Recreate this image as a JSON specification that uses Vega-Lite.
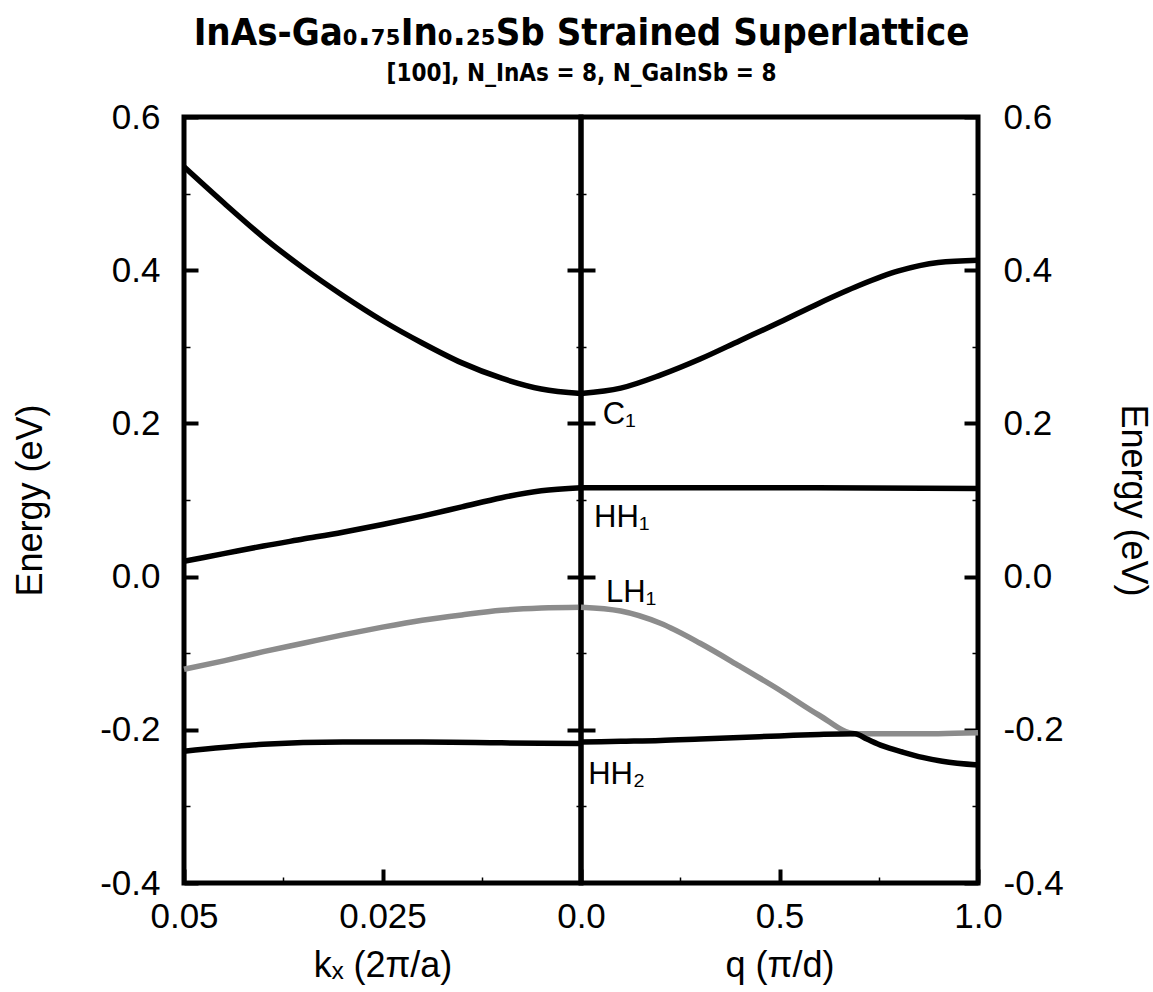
{
  "$schema": "https://vega.github.io/schema/vega-lite/v6.json",
  "background": "white",
  "padding": {"left": 10, "right": 5, "top": 14, "bottom": 5},
  "title": {
    "text": "InAs-Ga₀.₇₅In₀.₂₅Sb Strained Superlattice",
    "subtitle": "[100], N_InAs = 8,  N_GaInSb = 8",
    "font": "Liberation Sans Narrow, DejaVu Sans Condensed, Liberation Sans",
    "fontSize": 38,
    "fontWeight": "bold",
    "color": "black",
    "subtitleFont": "Liberation Sans Narrow, DejaVu Sans Condensed, Liberation Sans",
    "subtitleFontSize": 24,
    "subtitleFontWeight": "bold",
    "subtitleColor": "black",
    "subtitlePadding": 9,
    "anchor": "middle",
    "offset": 12
  },
  "datasets": {
    "left": [
      {"kx": 0.05, "E": 0.535, "band": "C1"},
      {"kx": 0.045, "E": 0.488, "band": "C1"},
      {"kx": 0.04, "E": 0.443, "band": "C1"},
      {"kx": 0.035, "E": 0.403, "band": "C1"},
      {"kx": 0.03, "E": 0.367, "band": "C1"},
      {"kx": 0.025, "E": 0.334, "band": "C1"},
      {"kx": 0.02, "E": 0.305, "band": "C1"},
      {"kx": 0.015, "E": 0.279, "band": "C1"},
      {"kx": 0.01, "E": 0.259, "band": "C1"},
      {"kx": 0.005, "E": 0.245, "band": "C1"},
      {"kx": 0.0, "E": 0.239, "band": "C1"},
      {"kx": 0.05, "E": 0.020, "band": "HH1"},
      {"kx": 0.045, "E": 0.030, "band": "HH1"},
      {"kx": 0.04, "E": 0.040, "band": "HH1"},
      {"kx": 0.035, "E": 0.049, "band": "HH1"},
      {"kx": 0.03, "E": 0.058, "band": "HH1"},
      {"kx": 0.025, "E": 0.068, "band": "HH1"},
      {"kx": 0.02, "E": 0.079, "band": "HH1"},
      {"kx": 0.015, "E": 0.091, "band": "HH1"},
      {"kx": 0.01, "E": 0.103, "band": "HH1"},
      {"kx": 0.005, "E": 0.112, "band": "HH1"},
      {"kx": 0.0, "E": 0.116, "band": "HH1"},
      {"kx": 0.05, "E": -0.121, "band": "LH1"},
      {"kx": 0.045, "E": -0.110, "band": "LH1"},
      {"kx": 0.04, "E": -0.098, "band": "LH1"},
      {"kx": 0.035, "E": -0.087, "band": "LH1"},
      {"kx": 0.03, "E": -0.076, "band": "LH1"},
      {"kx": 0.025, "E": -0.066, "band": "LH1"},
      {"kx": 0.02, "E": -0.057, "band": "LH1"},
      {"kx": 0.015, "E": -0.050, "band": "LH1"},
      {"kx": 0.01, "E": -0.044, "band": "LH1"},
      {"kx": 0.005, "E": -0.041, "band": "LH1"},
      {"kx": 0.0, "E": -0.040, "band": "LH1"},
      {"kx": 0.05, "E": -0.228, "band": "HH2"},
      {"kx": 0.04, "E": -0.219, "band": "HH2"},
      {"kx": 0.03, "E": -0.216, "band": "HH2"},
      {"kx": 0.02, "E": -0.216, "band": "HH2"},
      {"kx": 0.01, "E": -0.217, "band": "HH2"},
      {"kx": 0.0, "E": -0.218, "band": "HH2"}
    ],
    "right": [
      {"q": 0.0, "E": 0.239, "band": "C1"},
      {"q": 0.1, "E": 0.246, "band": "C1"},
      {"q": 0.2, "E": 0.263, "band": "C1"},
      {"q": 0.3, "E": 0.284, "band": "C1"},
      {"q": 0.4, "E": 0.308, "band": "C1"},
      {"q": 0.5, "E": 0.332, "band": "C1"},
      {"q": 0.6, "E": 0.357, "band": "C1"},
      {"q": 0.7, "E": 0.380, "band": "C1"},
      {"q": 0.8, "E": 0.399, "band": "C1"},
      {"q": 0.9, "E": 0.410, "band": "C1"},
      {"q": 1.0, "E": 0.413, "band": "C1"},
      {"q": 0.0, "E": 0.116, "band": "HH1"},
      {"q": 0.5, "E": 0.116, "band": "HH1"},
      {"q": 1.0, "E": 0.115, "band": "HH1"},
      {"q": 0.0, "E": -0.040, "band": "LH1"},
      {"q": 0.1, "E": -0.045, "band": "LH1"},
      {"q": 0.2, "E": -0.061, "band": "LH1"},
      {"q": 0.3, "E": -0.087, "band": "LH1"},
      {"q": 0.4, "E": -0.117, "band": "LH1"},
      {"q": 0.5, "E": -0.148, "band": "LH1"},
      {"q": 0.6, "E": -0.181, "band": "LH1"},
      {"q": 0.69, "E": -0.205, "band": "LH1"},
      {"q": 0.8, "E": -0.205, "band": "LH1"},
      {"q": 0.9, "E": -0.205, "band": "LH1"},
      {"q": 1.0, "E": -0.204, "band": "LH1"},
      {"q": 0.0, "E": -0.216, "band": "HH2"},
      {"q": 0.1, "E": -0.215, "band": "HH2"},
      {"q": 0.2, "E": -0.214, "band": "HH2"},
      {"q": 0.3, "E": -0.212, "band": "HH2"},
      {"q": 0.4, "E": -0.210, "band": "HH2"},
      {"q": 0.5, "E": -0.208, "band": "HH2"},
      {"q": 0.6, "E": -0.206, "band": "HH2"},
      {"q": 0.69, "E": -0.205, "band": "HH2"},
      {"q": 0.72, "E": -0.212, "band": "HH2"},
      {"q": 0.76, "E": -0.221, "band": "HH2"},
      {"q": 0.81, "E": -0.229, "band": "HH2"},
      {"q": 0.86, "E": -0.236, "band": "HH2"},
      {"q": 0.91, "E": -0.241, "band": "HH2"},
      {"q": 1.0, "E": -0.246, "band": "HH2"}
    ],
    "labels": [
      {"q": 0.055, "E": 0.199, "label": "C₁"},
      {"q": 0.033, "E": 0.065, "label": "HH₁"},
      {"q": 0.063, "E": -0.033, "label": "LH₁"},
      {"q": 0.018, "E": -0.271, "label": "HH₂"}
    ]
  },
  "spacing": 0,
  "bounds": "flush",
  "hconcat": [
    {
      "width": 397,
      "height": 766,
      "data": {"name": "left"},
      "layer": [
        {
          "mark": {"type": "line", "strokeWidth": 5.5, "interpolate": "monotone"},
          "encoding": {
            "x": {"field": "kx", "type": "quantitative",
                  "scale": {"domain": [0.05, 0], "nice": false, "zero": false},
                  "axis": {"orient": "bottom", "values": [0.05, 0.025], "labelExpr": "format(datum.value, '.3~f')",
                           "tickSize": -14, "tickWidth": 4, "labelPadding": 30, "labelFlush": false,
                           "title": "kₓ (2π/a)", "titlePadding": 14}},
            "y": {"field": "E", "type": "quantitative",
                  "scale": {"domain": [-0.4, 0.6], "nice": false, "zero": false},
                  "axis": {"orient": "left", "values": [-0.4, -0.2, 0, 0.2, 0.4, 0.6],
                           "labelExpr": "datum.value < 0 ? '-' + format(-datum.value, '.1f') : format(datum.value, '.1f')",
                           "tickSize": -14, "tickWidth": 4, "labelPadding": 38,
                           "title": "Energy (eV)", "titlePadding": 50}},
            "color": {"field": "band", "type": "nominal",
                      "scale": {"domain": ["C1", "HH1", "LH1", "HH2"], "range": ["black", "black", "#8c8c8c", "black"]},
                      "legend": null}
          }
        },
        {
          "mark": {"type": "point", "opacity": 0},
          "encoding": {
            "x": {"field": "kx", "type": "quantitative",
                  "axis": {"orient": "bottom", "values": [0.0375, 0.0125], "labels": false, "tickSize": -6, "tickWidth": 1.5, "title": null, "minExtent": 0, "maxExtent": 0}},
            "y": {"field": "E", "type": "quantitative",
                  "axis": {"orient": "left", "values": [-0.3, -0.1, 0.1, 0.3, 0.5], "labels": false, "tickSize": -6, "tickWidth": 1.5, "title": null, "minExtent": 0, "maxExtent": 0}}
          }
        },
        {
          "mark": {"type": "point", "opacity": 0},
          "encoding": {
            "x": {"field": "kx", "type": "quantitative", "axis": null},
            "y": {"field": "E", "type": "quantitative",
                  "axis": {"orient": "right", "values": [-0.2, 0, 0.2, 0.4], "labels": false, "tickSize": -14, "tickWidth": 4, "title": null, "minExtent": 0, "maxExtent": 0}}
          }
        },
        {
          "mark": {"type": "point", "opacity": 0},
          "encoding": {
            "x": {"field": "kx", "type": "quantitative", "axis": null},
            "y": {"field": "E", "type": "quantitative",
                  "axis": {"orient": "right", "values": [-0.3, -0.1, 0.1, 0.3, 0.5], "labels": false, "tickSize": -5, "tickWidth": 1.5, "title": null, "minExtent": 0, "maxExtent": 0}}
          }
        }
      ],
      "resolve": {"axis": {"x": "independent", "y": "independent"}}
    },
    {
      "width": 397,
      "height": 766,
      "data": {"name": "right"},
      "layer": [
        {
          "mark": {"type": "line", "strokeWidth": 5.5, "interpolate": "monotone"},
          "encoding": {
            "x": {"field": "q", "type": "quantitative",
                  "scale": {"domain": [0, 1], "nice": false, "zero": false},
                  "axis": {"orient": "bottom", "values": [0, 0.5, 1], "format": ".1f",
                           "tickSize": -14, "tickWidth": 4, "labelPadding": 30, "labelFlush": false,
                           "title": "q (π/d)", "titlePadding": 14}},
            "y": {"field": "E", "type": "quantitative",
                  "scale": {"domain": [-0.4, 0.6], "nice": false, "zero": false},
                  "axis": {"orient": "right", "values": [-0.4, -0.2, 0, 0.2, 0.4, 0.6],
                           "labelExpr": "datum.value < 0 ? '-' + format(-datum.value, '.1f') : format(datum.value, '.1f')",
                           "tickSize": -14, "tickWidth": 4, "labelPadding": 39,
                           "title": "Energy (eV)", "titlePadding": 50}},
            "color": {"field": "band", "type": "nominal",
                      "scale": {"domain": ["C1", "HH1", "LH1", "HH2"], "range": ["black", "black", "#8c8c8c", "black"]},
                      "legend": null}
          }
        },
        {
          "mark": {"type": "point", "opacity": 0},
          "encoding": {
            "x": {"field": "q", "type": "quantitative",
                  "axis": {"orient": "bottom", "values": [0.25, 0.75], "labels": false, "tickSize": -6, "tickWidth": 1.5, "title": null, "minExtent": 0, "maxExtent": 0}},
            "y": {"field": "E", "type": "quantitative",
                  "axis": {"orient": "right", "values": [-0.3, -0.1, 0.1, 0.3, 0.5], "labels": false, "tickSize": -6, "tickWidth": 1.5, "title": null, "minExtent": 0, "maxExtent": 0}}
          }
        },
        {
          "mark": {"type": "point", "opacity": 0},
          "encoding": {
            "x": {"field": "q", "type": "quantitative", "axis": null},
            "y": {"field": "E", "type": "quantitative",
                  "axis": {"orient": "left", "values": [-0.2, 0, 0.2, 0.4], "labels": false, "tickSize": -14, "tickWidth": 4, "title": null, "minExtent": 0, "maxExtent": 0}}
          }
        },
        {
          "mark": {"type": "point", "opacity": 0},
          "encoding": {
            "x": {"field": "q", "type": "quantitative", "axis": null},
            "y": {"field": "E", "type": "quantitative",
                  "axis": {"orient": "left", "values": [-0.3, -0.1, 0.1, 0.3, 0.5], "labels": false, "tickSize": -5, "tickWidth": 1.5, "title": null, "minExtent": 0, "maxExtent": 0}}
          }
        },
        {
          "data": {"name": "labels"},
          "mark": {"type": "text", "align": "left", "baseline": "alphabetic", "fontSize": 31, "font": "Liberation Sans", "color": "black"},
          "encoding": {
            "x": {"field": "q", "type": "quantitative", "axis": null},
            "y": {"field": "E", "type": "quantitative", "axis": null},
            "text": {"field": "label"}
          }
        }
      ],
      "resolve": {"axis": {"x": "independent", "y": "independent"}}
    }
  ],
  "config": {
    "view": {"stroke": "black", "strokeWidth": 5},
    "font": "Liberation Sans",
    "axis": {
      "domain": false,
      "grid": false,
      "labelFont": "Liberation Sans",
      "labelFontSize": 35,
      "labelColor": "black",
      "titleFont": "Liberation Sans",
      "titleFontSize": 36,
      "titleFontWeight": "normal",
      "titleColor": "black",
      "tickColor": "black"
    }
  }
}
